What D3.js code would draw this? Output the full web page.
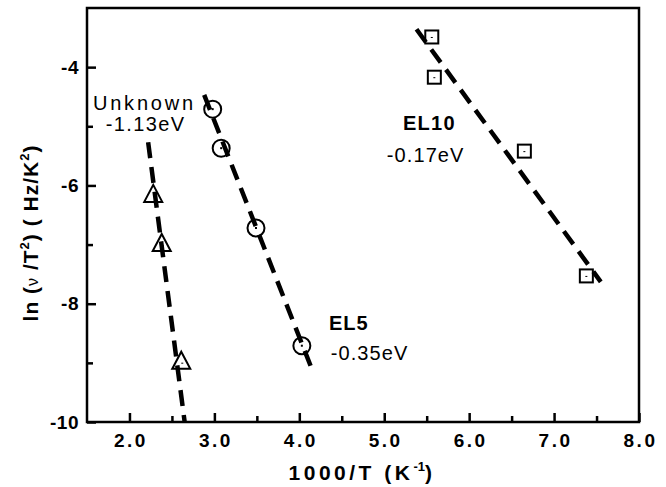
<!DOCTYPE html>
<html lang="en">
<head>
  <meta charset="UTF-8">
  <title>Arrhenius plot</title>
  <script src="https://d3js.org/d3.v7.min.js"></script>
  <style>
    body { margin: 0; background: #fff; }
    svg { font-family: "Liberation Sans", Arial, sans-serif; }
  </style>
</head>
<body>
  <svg id="chart" width="666" height="487"></svg>

  <script>
    // measured points (1000/T, ln(v/T^2))
    const unknownX = [2.28, 2.38, 2.61];
    const unknownY = [-6.16, -6.99, -8.98];
    const el5X = [2.98, 3.08, 3.49, 4.03];
    const el5Y = [-4.71, -5.37, -6.72, -8.71];
    const el10X = [5.56, 5.59, 6.65, 7.38];
    const el10Y = [-3.49, -4.17, -5.42, -7.53];

    // dashed fit lines, start and end
    const unknownFit = [[2.22, -5.27], [2.65, -10]];
    const el5Fit = [[2.88, -4.47], [4.16, -9.15]];
    const el10Fit = [[5.38, -3.36], [7.55, -7.63]];

    // tick labels
    const xTicks = [2, 3, 4, 5, 6, 7, 8];
    const xMinor = [2.5, 3.5, 4.5, 5.5, 6.5, 7.5];
    const yTicks = [-4, -6, -8, -10];
    const yMinor = [-5, -7, -9];

    // annotations: [text, x, y, bold, spacing]
    const notes = [
      ["Unknown", 1.57, -4.73, false, 2.8],
      ["-1.13eV", 1.72, -5.08, false, 1.4],
      ["EL5", 4.35, -8.44, true, 1],
      ["-0.35eV", 4.37, -8.95, false, 1.1],
      ["EL10", 5.22, -5.06, true, 1.3],
      ["-0.17eV", 5.03, -5.60, false, 1.1]
    ];

    const margin = { top: 8, right: 27, bottom: 65, left: 87 };
    const width = 666, height = 487;

    const svg = d3.select("#chart");

    const x = d3.scaleLinear().domain([1.5, 8]).range([margin.left, width - margin.right]);
    const y = d3.scaleLinear().domain([-10, -3]).range([height - margin.bottom, margin.top]);

    // frame
    svg.append("rect")
       .attr("x", x(1.5)).attr("y", y(-3))
       .attr("width", x(8) - x(1.5)).attr("height", y(-10) - y(-3))
       .attr("fill", "none").attr("stroke", "#000").attr("stroke-width", 2.5);

    // x axis ticks (inward)
    const xAxis = svg.append("g").attr("transform", `translate(0,${y(-10)})`);
    xAxis.call(d3.axisBottom(x).tickValues(xTicks).tickSize(-9).tickPadding(12).tickFormat(d3.format(".1f")));
    xAxis.append("g").call(d3.axisBottom(x).tickValues(xMinor).tickSize(-6).tickFormat(""));

    const yAxis = svg.append("g").attr("transform", `translate(${x(1.5)},0)`);
    yAxis.call(d3.axisLeft(y).tickValues(yTicks).tickSize(-9).tickPadding(8).tickFormat(d => d));
    yAxis.append("g").call(d3.axisLeft(y).tickValues(yMinor).tickSize(-6).tickFormat(""));

    svg.selectAll(".domain").remove();
    svg.selectAll(".tick line").attr("stroke", "#000").attr("stroke-width", 2.5);
    svg.selectAll(".tick text")
       .attr("fill", "#000")
       .style("font-size", "19px")
       .style("font-weight", "bold")
       .style("letter-spacing", "2.5px")
       .style("font-family", "'Liberation Sans', Arial, sans-serif");
    xAxis.selectAll(".tick text").attr("dy", "0.71em").attr("dx", "1px");
    yAxis.selectAll(".tick text").style("letter-spacing", "0.5px");

    // fit lines
    const line = d3.line().x(d => x(d[0])).y(d => y(d[1]));
    [unknownFit, el5Fit, el10Fit].forEach(f => {
      svg.append("path")
         .attr("d", line(f))
         .attr("fill", "none")
         .attr("stroke", "#000")
         .attr("stroke-width", 4.5)
         .attr("stroke-dasharray", "16,9");
    });

    // markers
    const mk = svg.append("g").attr("fill", "none").attr("stroke", "#000").attr("stroke-width", 2);

    unknownX.forEach((v, i) => {
      const cx = x(v), cy = y(unknownY[i]);
      mk.append("path")
        .attr("d", `M${cx},${cy - 10}L${cx + 9},${cy + 7}L${cx - 9},${cy + 7}Z`);
      mk.append("rect").attr("x", cx).attr("y", cy + 1).attr("width", 2).attr("height", 1)
        .attr("fill", "#000").attr("stroke", "none");
    });

    el5X.forEach((v, i) => {
      const cx = x(v), cy = y(el5Y[i]);
      mk.append("circle").attr("cx", cx).attr("cy", cy).attr("r", 8.5);
      mk.append("rect").attr("x", cx - 1).attr("y", cy - 1).attr("width", 2).attr("height", 2)
        .attr("fill", "#000").attr("stroke", "none");
    });

    el10X.forEach((v, i) => {
      const cx = x(v), cy = y(el10Y[i]);
      mk.append("rect").attr("x", cx - 6.5).attr("y", cy - 6.5).attr("width", 13).attr("height", 13);
      mk.append("rect").attr("x", cx - 1).attr("y", cy).attr("width", 2).attr("height", 1)
        .attr("fill", "#000").attr("stroke", "none");
    });

    // annotations
    svg.selectAll(".note")
       .data(notes)
       .enter().append("text")
       .attr("class", "note")
       .attr("x", d => x(d[1]))
       .attr("y", d => y(d[2]))
       .style("font-size", "20px")
       .style("font-weight", d => d[3] ? "bold" : "normal")
       .style("letter-spacing", d => d[4] + "px")
       .text(d => d[0]);

    // x axis title
    const xt = svg.append("text")
       .attr("x", 362).attr("y", 480)
       .attr("text-anchor", "middle")
       .style("font-size", "21px").style("font-weight", "bold")
       .style("letter-spacing", "3.5px");
    xt.append("tspan").text("1000/T (K");
    xt.append("tspan").attr("dy", -9).style("font-size", "13px").style("letter-spacing", "0px").text("-1");
    xt.append("tspan").attr("dy", 9).text(")");

    // y axis title
    const yt = svg.append("text")
       .attr("transform", "translate(38,233) rotate(-90)")
       .attr("text-anchor", "middle")
       .style("font-size", "21px").style("font-weight", "bold")
       .style("letter-spacing", "1px");
    yt.append("tspan").text("ln (");
    yt.append("tspan").style("font-size", "16px").style("font-weight", "normal").text("ν");
    yt.append("tspan").text(" /T");
    yt.append("tspan").attr("dy", -9).style("font-size", "13px").text("2");
    yt.append("tspan").attr("dy", 9).text(")    ( Hz/K");
    yt.append("tspan").attr("dy", -9).style("font-size", "13px").text("2");
    yt.append("tspan").attr("dy", 9).text(")");
  </script>
</body>
</html>
